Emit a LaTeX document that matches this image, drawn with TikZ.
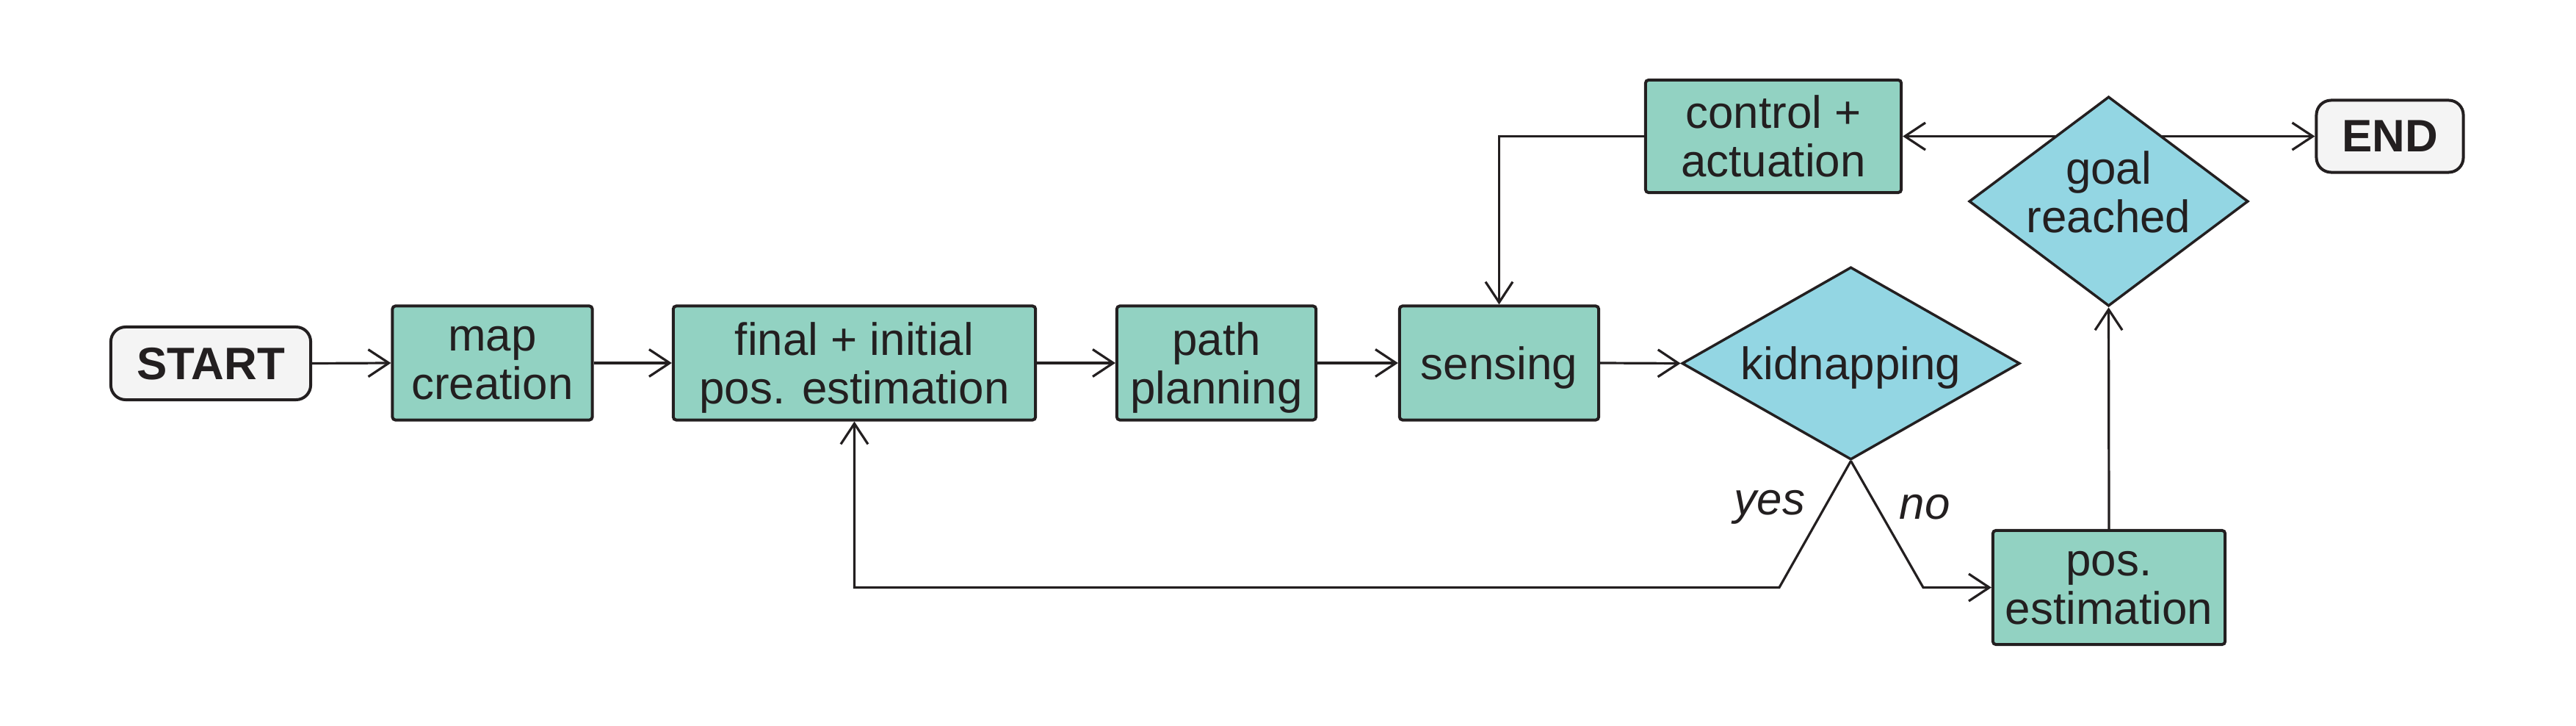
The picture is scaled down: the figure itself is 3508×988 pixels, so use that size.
\documentclass[tikz,border=0pt]{standalone}
\usepackage{fontspec}
\setmainfont{Liberation Sans}
\usetikzlibrary{shapes.geometric,arrows.meta,backgrounds}
\definecolor{boxgreen}{HTML}{92D2C2}
\definecolor{diablue}{HTML}{93D6E3}
\definecolor{termfill}{HTML}{F4F4F4}
\definecolor{ink}{HTML}{231F20}
\newcommand\zerow[1]{\makebox[0pt]{#1}}
\begin{document}
\begin{tikzpicture}[x=0.01cm,y=-0.01cm,
  basefont/.style={font=\fontsize{17.6pt}{18.8pt}\selectfont},
  every node/.style={basefont, text=ink},
  txt/.style={align=center, text depth=-0.03cm, execute at begin node={\vphantom{A}}},
  procbox/.style={txt, draw=ink, fill=boxgreen, line width=0.04cm, rounded corners=0.04cm, inner sep=0pt},
  termbox/.style={txt, draw=ink, fill=termfill, line width=0.04cm, rounded corners=0.2cm, inner sep=0pt, font=\fontsize{17.6pt}{18.8pt}\selectfont\bfseries},
  decision/.style={txt, diamond, draw=ink, fill=diablue, line width=0.035cm, inner sep=0pt},
  flow/.style={draw=ink, line width=0.032cm, -{Straight Barb[length=0.28cm,width=0.37cm]}},
  lbl/.style={font=\fontsize{17.6pt}{18.8pt}\selectfont\itshape}
]
\useasboundingbox (0,0) rectangle (3508,988);

\node[termbox, minimum width=2.72cm, minimum height=0.99cm] (start) at (287,494.5) {START};
\node[procbox, minimum width=2.72cm, minimum height=1.55cm] (map) at (670.5,494) {map\\creation};
\node[procbox, minimum width=4.93cm, minimum height=1.55cm] (final) at (1163.5,494) {final + initial\\pos. estimation};
\node[procbox, minimum width=2.71cm, minimum height=1.55cm] (path) at (1656.5,494) {path\\planning};
\node[procbox, minimum width=2.71cm, minimum height=1.55cm] (sensing) at (2041.5,494) {sensing};
\node[decision, minimum width=4.60cm, minimum height=2.62cm] (kid) at (2520.5,494.5) {\zerow{kidnapping}};
\node[procbox, minimum width=3.48cm, minimum height=1.53cm] (ctrl) at (2415,185.5) {control +\\actuation};
\node[decision, minimum width=3.80cm, minimum height=2.85cm, text depth=0.26cm] (goal) at (2871.5,274) {\zerow{goal}\\\zerow{reached}};
\node[termbox, minimum width=2.00cm, minimum height=0.98cm] (end) at (3254.5,185.5) {END};
\node[procbox, minimum width=3.16cm, minimum height=1.55cm] (pos) at (2872,799.5) {pos.\\estimation};

\coordinate (ycorner) at (2423,799.5);
\coordinate (ncorner) at (2619,799.5);

\node[lbl] (yes) at (2410,690) {yes};
\node[lbl] (no) at (2621,690) {no};

\begin{scope}[on background layer]
\draw[flow] (start.east) -- (map.west);
\draw[flow] (map.east) -- (final.west);
\draw[flow] (final.east) -- (path.west);
\draw[flow] (path.east) -- (sensing.west);
\draw[flow] (sensing.east) -- (kid.west);
\draw[flow] (kid.south) -- (ycorner) -- (ycorner -| final.south) -- (final.south);
\draw[flow] (kid.south) -- (ncorner) -- (pos.west);
\draw[flow] (pos.north) -- (goal.south);
\draw[flow] (goal.center |- ctrl.east) -- (ctrl.east);
\draw[flow] (goal.center |- end.west) -- (end.west);
\draw[flow] (ctrl.west) -- (ctrl.west -| sensing.north) -- (sensing.north);
\end{scope}
\end{tikzpicture}
\end{document}
